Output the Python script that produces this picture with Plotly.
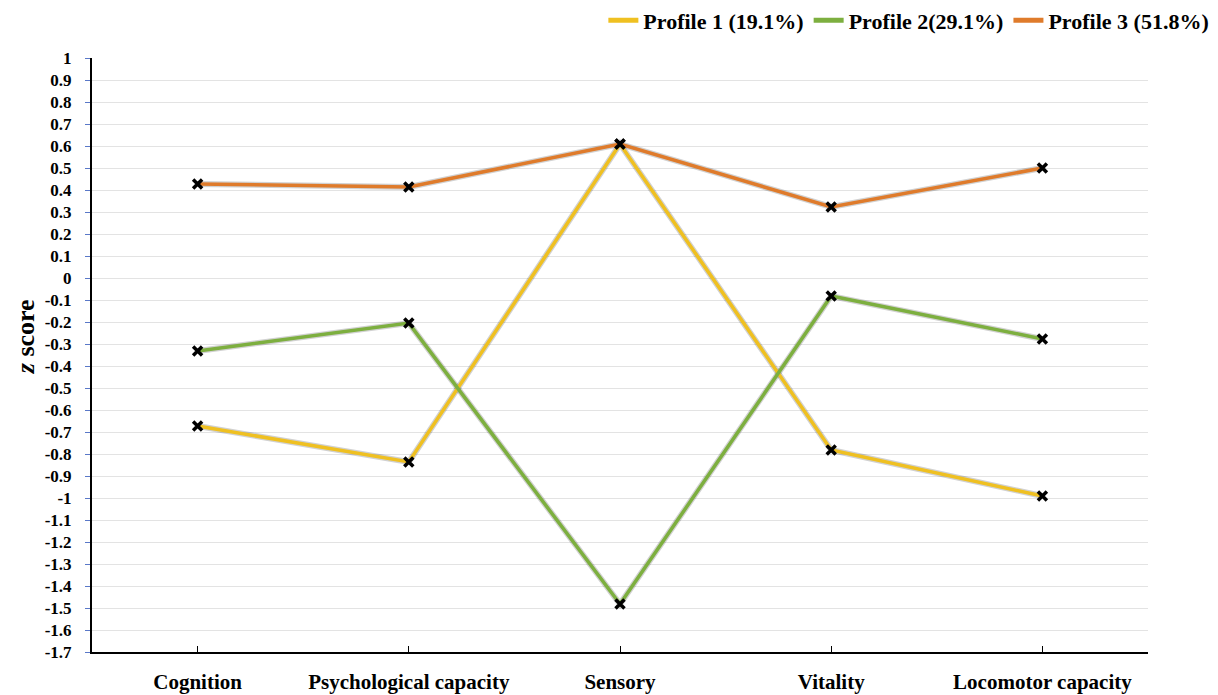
import plotly.graph_objects as go

categories = ["Cognition", "Psychological capacity", "Sensory", "Vitality", "Locomotor capacity"]
profile1 = [-0.673, -0.836, 0.609, -0.782, -0.991]
profile2 = [-0.332, -0.205, -1.482, -0.082, -0.277]
profile3 = [0.427, 0.414, 0.609, 0.323, 0.500]
series_names = ["Profile 1 (19.1%)", "Profile 2(29.1%)", "Profile 3 (51.8%)"]
series_colors = ["#EFC021", "#7DAF3F", "#DF7B2B"]
y_tick_labels = ["1", "0.9", "0.8", "0.7", "0.6", "0.5", "0.4", "0.3", "0.2", "0.1", "0",
                 "-0.1", "-0.2", "-0.3", "-0.4", "-0.5", "-0.6", "-0.7", "-0.8", "-0.9", "-1",
                 "-1.1", "-1.2", "-1.3", "-1.4", "-1.5", "-1.6", "-1.7"]
y_tick_vals = [float(t) for t in y_tick_labels]

FONT = "Liberation Serif, Times New Roman, serif"

fig = go.Figure()
all_series = [profile1, profile2, profile3]
# soft shadows
for vals in all_series:
    fig.add_trace(go.Scatter(x=categories, y=vals, mode="lines",
                             line=dict(color="rgba(0,0,0,0.18)", width=6),
                             showlegend=False, hoverinfo="skip"))
for name, vals, col in zip(series_names, all_series, series_colors):
    fig.add_trace(go.Scatter(
        x=categories, y=vals, name=name, mode="lines+markers",
        line=dict(color=col, width=3.5),
        marker=dict(symbol="x-thin-open", size=9, color="black", line=dict(color="black", width=3.5)),
        showlegend=False,
    ))

# legend entries drawn with plain line swatches
for name, col in zip(series_names, series_colors):
    fig.add_trace(go.Scatter(x=[None], y=[None], mode="lines", name=name,
                             line=dict(color=col, width=3.5), showlegend=True))

fig.update_layout(
    width=1210, height=687,
    paper_bgcolor="white", plot_bgcolor="white",
    margin=dict(l=84, r=70, t=50, b=43, autoexpand=False),
    font=dict(family=FONT, size=16, color="black", weight="bold"),
    legend=dict(orientation="h", xref="container", yref="container",
                x=0.997, xanchor="right", y=0.982, yanchor="middle",
                font=dict(family=FONT, size=22, color="black", weight="bold"),
                itemwidth=30, tracegroupgap=0, bgcolor="rgba(0,0,0,0)",
                itemsizing="constant"),
    showlegend=True,
    annotations=[dict(text="<i>z</i> score", textangle=-90, xref="paper", yref="paper",
                      x=-0.0634, y=0.53, xanchor="center", yanchor="middle", showarrow=False,
                      borderpad=0,
                      font=dict(family=FONT, size=26, color="black", weight="bold"))],
)
fig.update_xaxes(
    type="category", range=[-0.5, 4.5],
    showline=True, linecolor="black", linewidth=2,
    ticks="inside", ticklen=6, tickcolor="black", tickwidth=1,
    showgrid=False, zeroline=False,
    tickfont=dict(family=FONT, size=21, color="black", weight="bold"),
    ticklabelstandoff=10,
    automargin=False,
)
fig.update_yaxes(
    range=[-1.7, 1.0], tickvals=y_tick_vals, ticktext=y_tick_labels,
    showline=True, linecolor="black", linewidth=2,
    ticks="outside", ticklen=5, tickcolor="#5a78c8", tickwidth=1,
    showgrid=True, gridcolor="#e3e3e3", gridwidth=1,
    zeroline=False,
    tickfont=dict(family=FONT, size=17, color="black", weight="bold"),
    ticklabelstandoff=10,
    automargin=False,
)

fig.write_html("out.html")
